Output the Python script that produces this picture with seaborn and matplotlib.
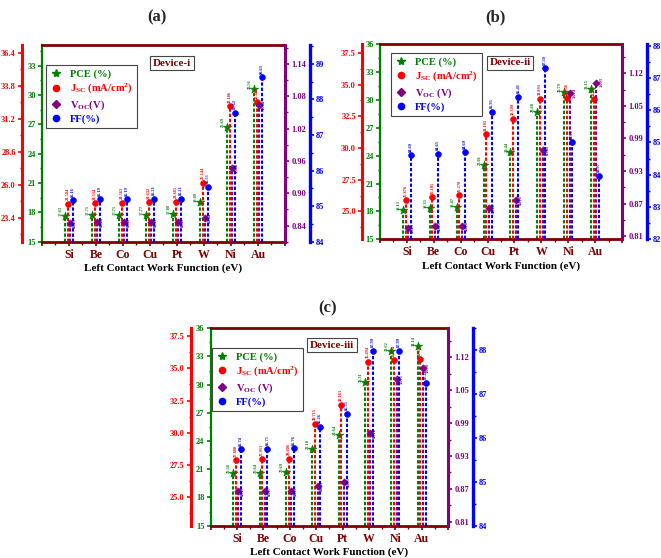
import numpy as np
import pandas as pd
import matplotlib
matplotlib.use('Agg')
import matplotlib.pyplot as plt
import seaborn as sns
from matplotlib.lines import Line2D
from matplotlib.ticker import AutoMinorLocator

metals = ['Si', 'Be', 'Co', 'Cu', 'Pt', 'W', 'Ni', 'Au']

# Device-i
pce_i = [17.63, 17.71, 17.71, 17.77, 17.80, 19.09, 26.69, 30.56]
jsc_i = [24.504, 24.534, 24.563, 24.632, 24.665, 26.144, 32.186, 32.482]
voc_i = [0.845, 0.846, 0.847, 0.847, 0.847, 0.854, 0.946, 1.064]
ff_i = [85.16, 85.19, 85.19, 85.21, 85.21, 85.55, 87.62, 88.63]

# Device-ii
pce_ii = [18.13, 18.33, 18.47, 23.01, 24.44, 28.68, 30.79, 31.15]
jsc_ii = [25.876, 26.105, 26.278, 31.103, 32.309, 33.893, 33.936, 33.837]
voc_ii = [0.825, 0.829, 0.828, 0.861, 0.876, 0.969, 1.074, 1.093]
ff_ii = [84.60, 84.65, 84.69, 85.95, 86.41, 87.30, 85.00, 83.97]

# Device-iii
pce_iii = [20.58, 20.64, 20.69, 23.18, 24.64, 30.31, 33.62, 34.14]
jsc_iii = [27.880, 27.951, 28.006, 30.715, 32.161, 35.494, 35.614, 35.685]
voc_iii = [0.867, 0.867, 0.867, 0.875, 0.883, 0.972, 1.071, 1.090]
ff_iii = [85.74, 85.75, 85.76, 86.26, 86.55, 87.99, 87.99, 87.26]

GREEN = '#008000'
RED = '#ff0000'
PURPLE = '#800080'
BLUE = '#0000ff'
MAROON = '#800000'

sns.set_style('ticks')
plt.rcParams['font.family'] = ['Liberation Serif', 'DejaVu Serif']
plt.rcParams['font.weight'] = 'bold'
plt.rcParams['mathtext.default'] = 'regular'
plt.rcParams['axes.linewidth'] = 1.5

fig = plt.figure(figsize=(6.61, 5.58), dpi=100)


def stems(axis, vals, off, lo, color, marker, s, fmt, dx, dy, ha, va):
    x = np.arange(1, 9) + off
    df = pd.DataFrame({'x': x, 'y': vals})
    axis.vlines(x, lo, vals, colors=color, linestyles=(0, (1.6, 0.9)), linewidth=1.5, zorder=2)
    sns.scatterplot(data=df, x='x', y='y', marker=marker, s=s, color=color,
                    edgecolor=color, linewidth=0.4, ax=axis, zorder=3, legend=False)
    axis.set_xlabel('')
    axis.set_ylabel('')
    for xi, v in zip(x, vals):
        axis.annotate(fmt.format(v), (xi, v), xytext=(dx, dy), textcoords='offset points',
                      rotation=90, fontsize=3.2, color=color, ha=ha, va=va)


def panel(rect, pce, jsc, voc, ff, lims, ticks, vlabels, device, voc_lab,
          leg_xy, dev_xy, red_off, blue_off):
    ax = fig.add_axes(rect)
    axj = ax.twinx()
    axv = ax.twinx()
    axf = ax.twinx()

    stems(ax, pce, -0.15, lims['pce'][0], GREEN, '*', 42, '{:.2f}', -1.5, 0, 'right', 'bottom')
    stems(axj, jsc, -0.05, lims['jsc'][0], RED, 'o', 18, '{:.3f}', 0, 2.5, 'center', 'bottom')
    stems(axv, voc, 0.05, lims['voc'][0], PURPLE, 'D', 14, '{:.3f}', 2, 0, 'left', 'center')
    stems(axf, ff, 0.15, lims['ff'][0], BLUE, 'o', 18, '{:.2f}', 0, 2.5, 'center', 'bottom')

    ax.set_xlim(0, 9)
    ax.set_ylim(*lims['pce'])
    axj.set_ylim(*lims['jsc'])
    axv.set_ylim(*lims['voc'])
    axf.set_ylim(*lims['ff'])

    # spines
    for a in (axj, axv, axf):
        a.spines['top'].set_visible(False)
        a.spines['bottom'].set_visible(False)
    ax.spines['right'].set_visible(False)
    ax.spines['left'].set_color(GREEN)
    ax.spines['left'].set_linewidth(1.6)
    for side in ('top', 'bottom'):
        ax.spines[side].set_color(MAROON)
        ax.spines[side].set_linewidth(2.0)

    axj.yaxis.tick_left()
    axj.spines['right'].set_visible(False)
    axj.spines['left'].set_visible(True)
    axj.spines['left'].set_position(('axes', -red_off))
    axj.spines['left'].set_color(RED)
    axj.spines['left'].set_linewidth(2.2)

    axv.spines['left'].set_visible(False)
    axv.spines['right'].set_color(PURPLE)
    axv.spines['right'].set_linewidth(2.2)

    axf.spines['left'].set_visible(False)
    axf.spines['right'].set_position(('axes', 1 + blue_off))
    axf.spines['right'].set_color(BLUE)
    axf.spines['right'].set_linewidth(2.4)

    # ticks
    for a, key, c, fmt in ((ax, 'pce', GREEN, '{:.0f}'), (axj, 'jsc', RED, '{:.1f}'),
                           (axv, 'voc', PURPLE, '{:.2f}'), (axf, 'ff', BLUE, '{:.0f}')):
        a.set_yticks(ticks[key])
        labs = [fmt.format(t) for t in ticks[key]]
        if key == 'voc' and vlabels is not None:
            labs = vlabels
        a.set_yticklabels(labs)
        a.yaxis.set_minor_locator(AutoMinorLocator(2))
        a.tick_params(axis='y', which='major', direction='out', length=3, width=1.2,
                      color=c, labelcolor=c, labelsize=6, pad=1.5)
        a.tick_params(axis='y', which='minor', direction='out', length=1.8, width=1.0, color=c)

    ax.set_xticks(range(0, 10))
    ax.set_xticklabels([''] + metals + [''])
    ax.xaxis.set_minor_locator(AutoMinorLocator(2))
    ax.tick_params(axis='x', which='major', direction='out', length=3, width=1.2,
                   color=MAROON, labelcolor=MAROON, labelsize=8.5, pad=2)
    ax.tick_params(axis='x', which='minor', direction='out', length=1.8, width=1.0, color=MAROON)
    ax.set_xlabel('Left Contact Work Function (eV)', fontsize=8, fontweight='bold',
                  color='black', labelpad=2)

    handles = [
        Line2D([], [], ls='none', marker='*', ms=6, color=GREEN),
        Line2D([], [], ls='none', marker='o', ms=4.5, color=RED),
        Line2D([], [], ls='none', marker='D', ms=4, color=PURPLE),
        Line2D([], [], ls='none', marker='o', ms=4.5, color=BLUE),
    ]
    labels = ['PCE (%)', r'J$_{SC}$ (mA/cm$^{2}$)', voc_lab, 'FF(%)']
    leg = axf.legend(handles, labels, loc='upper left', bbox_to_anchor=leg_xy,
                     labelcolor=[GREEN, RED, PURPLE, BLUE],
                     prop={'family': 'Liberation Serif', 'weight': 'bold', 'size': 7.6},
                     frameon=True, fancybox=False, framealpha=1, edgecolor='#444444',
                     handletextpad=0.7, labelspacing=0.25, borderpad=0.4,
                     handlelength=1.2, borderaxespad=0)
    leg.get_frame().set_linewidth(0.8)
    leg.set_zorder(10)

    axf.text(dev_xy[0], dev_xy[1], device, transform=axf.transAxes, ha='center', va='center',
             color=MAROON, fontsize=8, fontweight='bold', zorder=11,
             bbox=dict(boxstyle='square,pad=0.25', fc='white', ec='#444444', lw=0.8))


panel([0.0635, 0.5668, 0.3676, 0.3525], pce_i, jsc_i, voc_i, ff_i,
      {'pce': (15, 35.1), 'jsc': (21.5, 37.0), 'voc': (0.81, 1.175), 'ff': (84, 89.53)},
      {'pce': [15, 18, 21, 24, 27, 30, 33], 'jsc': [23.4, 26.0, 28.6, 31.2, 33.8, 36.4],
       'voc': [0.84, 0.90, 0.96, 1.02, 1.08, 1.14], 'ff': [84, 85, 86, 87, 88, 89]},
      None, 'Device-i', r'V$_{OC}$(V)', (0.016, 0.898), (0.535, 0.908), 0.082, 0.103)

panel([0.5749, 0.5711, 0.3661, 0.35], pce_ii, jsc_ii, voc_ii, ff_ii,
      {'pce': (15, 36), 'jsc': (22.8, 38.2), 'voc': (0.804, 1.164), 'ff': (82, 88.05)},
      {'pce': [15, 18, 21, 24, 27, 30, 33, 36], 'jsc': [25.0, 27.5, 30.0, 32.5, 35.0, 37.5],
       'voc': [0.81, 0.87, 0.93, 0.99, 1.05, 1.11], 'ff': [82, 83, 84, 85, 86, 87, 88]},
      ['0.81', '0.87', '0.93', '0.99', '1.05', '1.12'],
      'Device-ii', r'V$_{OC}$ (V)', (0.045, 0.954), (0.537, 0.903), 0.074, 0.103)

panel([0.3188, 0.0579, 0.359, 0.3538], pce_iii, jsc_iii, voc_iii, ff_iii,
      {'pce': (15, 36), 'jsc': (22.8, 38.1), 'voc': (0.803, 1.163), 'ff': (84, 88.5)},
      {'pce': [15, 18, 21, 24, 27, 30, 33, 36], 'jsc': [25.0, 27.5, 30.0, 32.5, 35.0, 37.5],
       'voc': [0.81, 0.87, 0.93, 0.99, 1.05, 1.11], 'ff': [84, 85, 86, 87, 88]},
      ['0.81', '0.87', '0.93', '0.99', '1.05', '1.12'],
      'Device-iii', r'V$_{OC}$ (V)', (0.004, 0.9), (0.51, 0.915), 0.084, 0.105)

fig.text(0.2375, 0.9695, '(a)', ha='center', va='center', fontsize=12, fontweight='bold')
fig.text(0.749, 0.9695, '(b)', ha='center', va='center', fontsize=12, fontweight='bold')
fig.text(0.496, 0.448, '(c)', ha='center', va='center', fontsize=12, fontweight='bold')

fig.savefig('out.png', dpi=100)
